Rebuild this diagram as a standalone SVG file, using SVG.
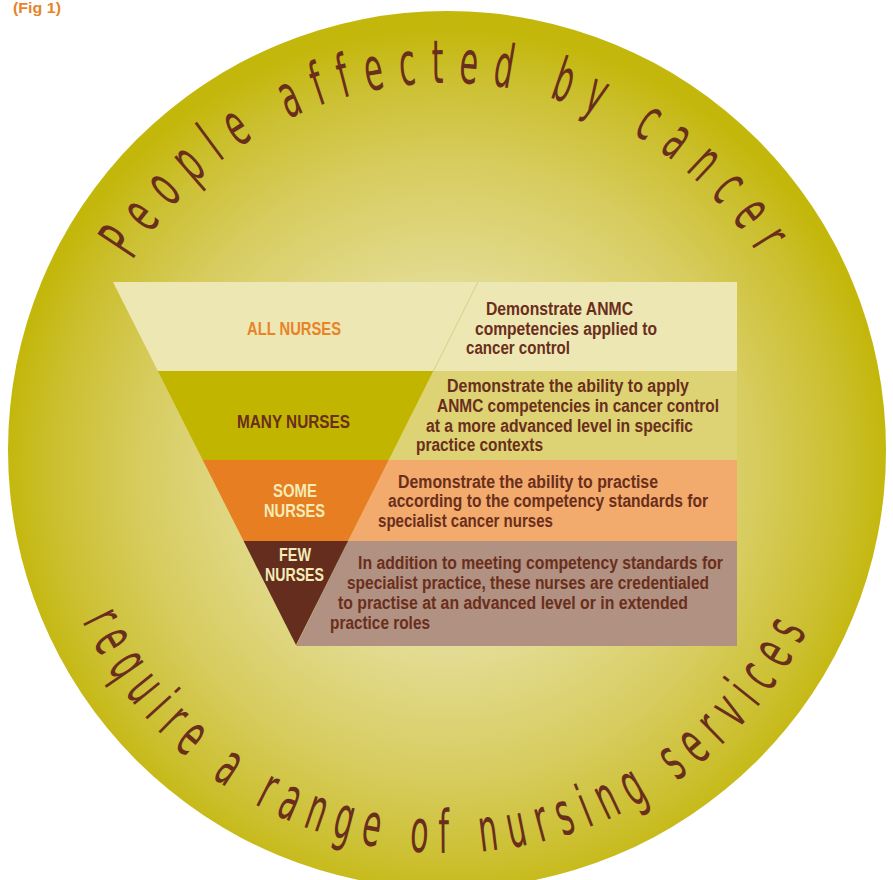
<svg xmlns="http://www.w3.org/2000/svg" width="893" height="880" viewBox="0 0 893 880">
<defs>
<radialGradient id="bg" gradientUnits="userSpaceOnUse" cx="447" cy="470" r="440">
<stop offset="0" stop-color="#efeab6"/>
<stop offset="0.4" stop-color="#e4dc95"/>
<stop offset="0.7" stop-color="#d7cc5e"/>
<stop offset="0.9" stop-color="#cbbf2e"/>
<stop offset="1" stop-color="#c4b70c"/>
</radialGradient>
<path id="arcTop" d="M 80 450 A 367 367 0 0 1 814 450"/>
<path id="arcBot" d="M 44 450 A 403 403 0 0 0 850 450"/>
</defs>
<style>
.lbl{font-family:"Liberation Sans",Arial,sans-serif;font-weight:bold;font-size:18px}
.body{font-family:"Liberation Sans",Arial,sans-serif;font-weight:bold;font-size:17.5px;fill:#6a2e1c}
.arc{font-family:"DejaVu Sans",sans-serif;font-size:60px;fill:#6a2e1c}
</style>
<rect width="893" height="880" fill="#ffffff"/>
<text x="13" y="13" class="lbl" style="font-size:15px" fill="#e8832a" textLength="48" lengthAdjust="spacingAndGlyphs">(Fig 1)</text>
<g id="circle">
<circle cx="447" cy="450" r="439" fill="url(#bg)"/>
<text class="arc" letter-spacing="29.5"><textPath href="#arcTop" startOffset="50.3%" text-anchor="middle" textLength="762" lengthAdjust="spacingAndGlyphs">People affected by cancer</textPath></text>
<text class="arc" letter-spacing="22"><textPath href="#arcBot" startOffset="50%" text-anchor="middle" textLength="912" lengthAdjust="spacingAndGlyphs">require a range of nursing services</textPath></text>
</g>
<g id="all-nurses">
<polygon points="113,282 737,282 737,371 157.9,371" fill="#ede7b3"/>
<line x1="478" y1="282" x2="433.4" y2="371" stroke="#d8cf85" stroke-width="1"/>
<text x="247" y="335" class="lbl" fill="#e8832a" textLength="94" lengthAdjust="spacingAndGlyphs">ALL NURSES</text>
<text class="body"><tspan x="486" y="315" textLength="147" lengthAdjust="spacingAndGlyphs">Demonstrate ANMC</tspan><tspan x="475" y="334.5" textLength="182" lengthAdjust="spacingAndGlyphs">competencies applied to</tspan><tspan x="466" y="354" textLength="104" lengthAdjust="spacingAndGlyphs">cancer control</tspan></text>
</g>
<g id="many-nurses">
<polygon points="433.4,371 737,371 737,460 388.8,460" fill="#ddd274"/>
<polygon points="157.9,371 433.4,371 388.8,460 202.7,460" fill="#c2b500"/>
<text x="237" y="427.5" class="lbl" fill="#6a2e1c" textLength="113" lengthAdjust="spacingAndGlyphs">MANY NURSES</text>
<text class="body"><tspan x="447" y="391.5" textLength="242" lengthAdjust="spacingAndGlyphs">Demonstrate the ability to apply</tspan><tspan x="437" y="411.5" textLength="282" lengthAdjust="spacingAndGlyphs">ANMC competencies in cancer control</tspan><tspan x="426" y="431.5" textLength="267" lengthAdjust="spacingAndGlyphs">at a more advanced level in specific</tspan><tspan x="416" y="450.5" textLength="127" lengthAdjust="spacingAndGlyphs">practice contexts</tspan></text>
</g>
<g id="some-nurses">
<polygon points="388.8,460 737,460 737,541 348.1,541" fill="#f2aa6d"/>
<polygon points="202.7,460 388.8,460 348.1,541 243.6,541" fill="#e77e22"/>
<text class="lbl" fill="#f3ecb6"><tspan x="273" y="496.5" textLength="44" lengthAdjust="spacingAndGlyphs">SOME</tspan><tspan x="264" y="516.5" textLength="61" lengthAdjust="spacingAndGlyphs">NURSES</tspan></text>
<text class="body"><tspan x="398" y="487.5" textLength="260" lengthAdjust="spacingAndGlyphs">Demonstrate the ability to practise</tspan><tspan x="388" y="507" textLength="320" lengthAdjust="spacingAndGlyphs">according to the competency standards for</tspan><tspan x="378" y="526.5" textLength="175" lengthAdjust="spacingAndGlyphs">specialist cancer nurses</tspan></text>
</g>
<g id="few-nurses">
<polygon points="348.1,541 737,541 737,646 296,646" fill="#b19181"/>
<polygon points="243.6,541 348.1,541 296,645" fill="#652d1e"/>
<text class="lbl" fill="#f3ecb6"><tspan x="279" y="560.5" textLength="32" lengthAdjust="spacingAndGlyphs">FEW</tspan><tspan x="265" y="580.5" textLength="59" lengthAdjust="spacingAndGlyphs">NURSES</tspan></text>
<text class="body"><tspan x="358" y="568.8" textLength="365" lengthAdjust="spacingAndGlyphs">In addition to meeting competency standards for</tspan><tspan x="347" y="589" textLength="362" lengthAdjust="spacingAndGlyphs">specialist practice, these nurses are credentialed</tspan><tspan x="338" y="609.2" textLength="350" lengthAdjust="spacingAndGlyphs">to practise at an advanced level or in extended</tspan><tspan x="330" y="629.4" textLength="100" lengthAdjust="spacingAndGlyphs">practice roles</tspan></text>
</g>
</svg>
